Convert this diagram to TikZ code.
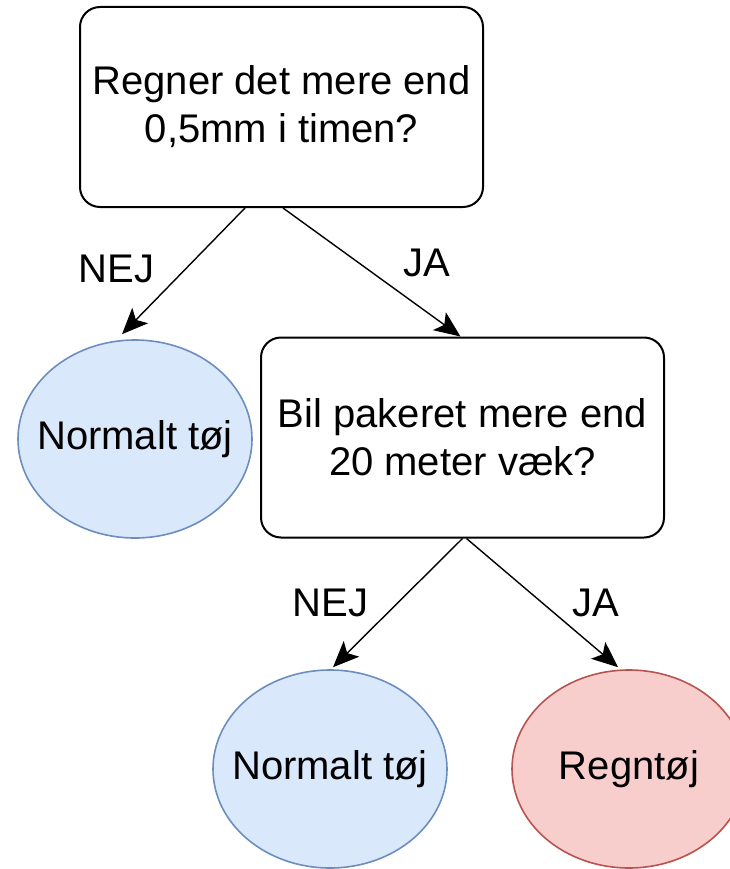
\documentclass[tikz,border=0pt]{standalone}
\usepackage{fontspec}
\setmainfont{Liberation Sans}
\usepackage{xcolor}
\usetikzlibrary{positioning, arrows.meta, shapes.geometric}

\definecolor{noFill}{HTML}{DAE8FC}
\definecolor{noLine}{HTML}{6C8EBF}
\definecolor{yesFill}{HTML}{F8CECC}
\definecolor{yesLine}{HTML}{B85450}

\begin{document}
\begin{tikzpicture}[
  x=1pt, y=-1pt,
  font=\fontsize{40}{48}\selectfont,
  question/.style={draw, rectangle, rounded corners=20pt, line width=2pt,
    minimum width=403pt, minimum height=200pt, inner sep=0pt, align=center},
  leaf/.style={ellipse, line width=1.6pt, minimum width=234pt,
    minimum height=198pt, inner sep=0pt},
  normal/.style={leaf, draw=noLine, fill=noFill},
  rain/.style={leaf, draw=yesLine, fill=yesFill},
  rel/.style={-{Stealth[length=26pt, width=22pt, inset=6pt]}, line width=1.4pt},
  lbl/.style={inner sep=0pt},
]
  \useasboundingbox (0,0) rectangle (729,869);

  % Questions
  \node[question] (rain) at (281.5,107) {Regner det mere end\\0,5mm i timen?};
  \node[question] (car) at (462.5,437.5) {Bil pakeret mere end\\20 meter væk?};

  % Answers
  \node[normal] (dry) at (135,439) {\makebox[0pt]{Normalt tøj}};
  \node[normal] (near) at (330,769) {\makebox[0pt]{Normalt tøj}};
  \node[rain] (wet) at (629,769) {\makebox[0pt]{Regntøj}};

  % Decisions
  \draw[rel] ([xshift=-36.5pt]rain.south) -- node[lbl, xshift=-67pt, yshift=2pt]{NEJ}
        ([xshift=-13pt, yshift=5pt]dry.north);
  \draw[rel] ([xshift=1.5pt]rain.south) -- node[lbl, xshift=55pt, yshift=9pt]{JA}
        ([xshift=-2pt]car.north);
  \draw[rel] (car.south) -- node[lbl, xshift=-67pt]{NEJ} ([xshift=3pt, yshift=2pt]near.north);
  \draw[rel] ([xshift=4pt]car.south) -- node[lbl, xshift=54pt]{JA}
        ([xshift=-11pt, yshift=2pt]wet.north);
\end{tikzpicture}
\end{document}
